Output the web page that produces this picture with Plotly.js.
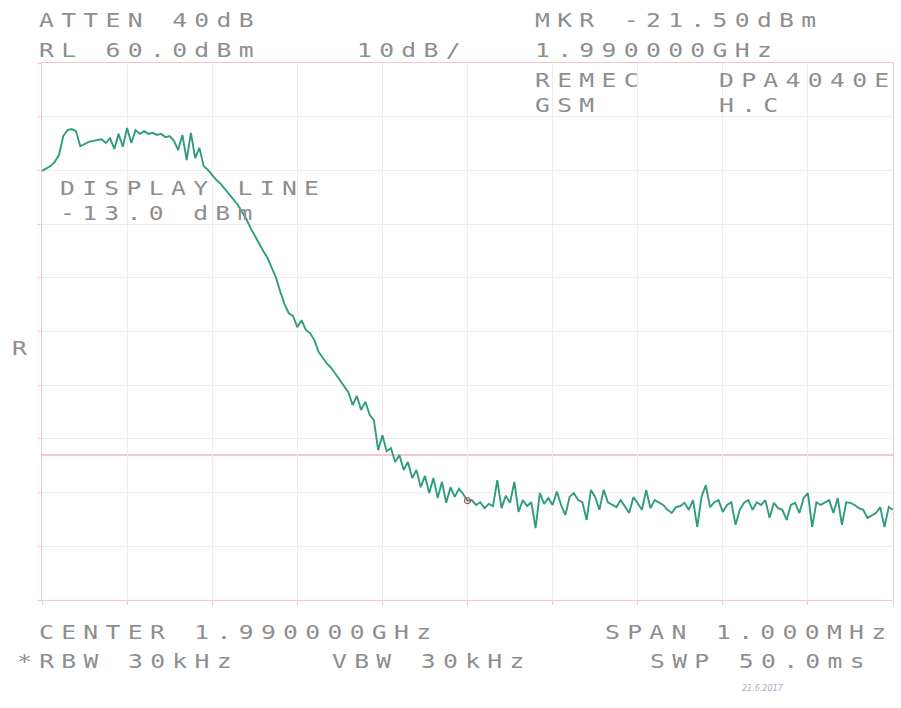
<!DOCTYPE html>
<html>
<head>
<meta charset="utf-8">
<script src="https://cdn.plot.ly/plotly-3.0.1.min.js"></script>
<style>
  html, body { margin: 0; padding: 0; background: #ffffff; }
  #chart { width: 901px; height: 708px; }
</style>
</head>
<body>
<div id="chart"></div>
<script>
// ---- Sweep settings (instrument) ----
const centerMHz = 1990.0;
const spanMHz = 1.0;
const refLevel = 60;        // dBm, top of screen
const dbPerDiv = 10;
const displayLine = -13.0;  // dBm
const markerLevel = -21.5;  // dBm at centre

// ---- Trace levels (dBm), 201 sweep points across the 1 MHz span ----
const levels = [
  39.9, 40.4, 40.8, 41.6, 42.9, 46.4, 47.5, 47.7, 47.3, 44.5,
  44.9, 45.3, 45.5, 45.7, 45.8, 45.1, 46.0, 44.0, 46.8, 44.4,
  47.9, 45.1, 47.5, 46.8, 47.3, 46.8, 47.0, 46.6, 46.8, 46.2,
  46.4, 45.5, 43.8, 46.6, 41.9, 47.0, 42.3, 44.2, 40.8, 40.1,
  39.1, 38.2, 37.5, 36.5, 35.6, 34.7, 33.6, 32.3, 31.0, 29.3,
  27.8, 26.5, 25.0, 23.7, 21.8, 20.0, 17.4, 15.1, 13.4, 12.9,
  10.8, 12.1, 10.3, 9.7, 8.4, 6.2, 5.1, 4.0, 3.2, 2.1,
  1.0, 0.0, -1.3, -3.7, -2.0, -4.6, -3.1, -5.5, -6.5, -12.1,
  -9.3, -12.3, -11.7, -14.3, -13.0, -15.8, -14.3, -17.3, -15.8, -19.0,
  -16.9, -20.1, -17.3, -21.0, -18.0, -21.9, -19.0, -20.8, -19.3, -20.3,
  -21.5, -21.4, -22.3, -21.8, -22.9, -22.1, -22.5, -17.7, -22.9, -20.6,
  -21.9, -18.0, -23.6, -21.4, -22.5, -21.8, -26.6, -20.1, -22.1, -21.0,
  -22.3, -19.8, -22.3, -24.2, -20.8, -20.1, -21.4, -21.8, -25.1, -19.5,
  -20.8, -23.2, -19.5, -21.8, -22.3, -22.7, -21.4, -22.5, -23.8, -20.8,
  -21.9, -23.2, -19.5, -22.9, -21.4, -21.9, -22.3, -23.2, -23.8, -22.7,
  -22.5, -21.9, -23.2, -21.4, -26.4, -20.8, -18.6, -22.7, -21.8, -21.4,
  -23.6, -22.3, -21.8, -26.0, -23.2, -21.9, -21.4, -23.2, -21.8, -22.3,
  -21.4, -24.7, -21.9, -22.9, -23.2, -25.1, -22.3, -21.9, -23.8, -21.0,
  -20.1, -26.4, -21.8, -22.3, -21.9, -21.4, -23.8, -21.0, -26.0, -21.8,
  -21.9, -22.3, -22.9, -23.2, -24.7, -24.2, -23.8, -22.7, -26.4, -22.7,
  -23.2
];

// ---- Screen annotation texts ----
const headerLeft = ["ATTEN 40dB", "RL 60.0dBm"];
const scaleText = "10dB/";
const markerTexts = ["MKR -21.50dBm", "1.990000GHz"];
const labelTexts = ["REMEC", "DPA4040E", "GSM", "H.C"];
const displayTexts = ["DISPLAY LINE", "-13.0 dBm"];
const footerTexts = ["CENTER 1.990000GHz", "SPAN 1.000MHz", "*RBW 30kHz", "VBW 30kHz", "SWP 50.0ms"];
const sideText = "R";
const signatureText = "21.6.2017";

// ---- Layout geometry (pixels) ----
const W = 901, H = 708;
const plotL = 42, plotR = 893, plotT = 63, plotB = 600;
const px = x => (x - plotL) / (plotR - plotL);
const py = y => (plotB - y) / (plotB - plotT);

const textColor = '#8e8e8e';
const textFont = { family: 'DejaVu Sans Mono, monospace', size: 19, color: textColor };

function label(text, x, y, font) {
  return {
    text: text, xref: 'paper', yref: 'paper',
    x: px(x), y: py(y), xanchor: 'left', yanchor: 'middle', align: 'left',
    showarrow: false, font: font || textFont
  };
}

const annotations = [
  label(headerLeft[0], 37, 20),
  label(headerLeft[1], 37, 50),
  label(scaleText, 355, 50),
  label(markerTexts[0], 533, 20),
  label(markerTexts[1], 533, 50),
  label(labelTexts[0], 533, 80),
  label(labelTexts[1], 717, 80),
  label(labelTexts[2], 533, 105),
  label(labelTexts[3], 717, 105),
  label(displayTexts[0], 58, 188),
  label(displayTexts[1], 58, 213),
  label(sideText, 10, 348),
  label(footerTexts[0], 37, 632),
  label(footerTexts[1], 603, 632),
  label(footerTexts[2], 15, 661),
  label(footerTexts[3], 330, 661),
  label(footerTexts[4], 648, 661),
  label(signatureText, 740, 688, { family: 'DejaVu Sans, sans-serif', size: 8, color: '#9fb0c8', style: 'italic' })
];

const gridColor = '#f1ebec';
const edgeColor = '#f2c8cf';

const traces = [
  {
    type: 'scatter', mode: 'lines',
    y: levels, x0: centerMHz - spanMHz / 2, dx: spanMHz / (levels.length - 1),
    line: { color: '#2f9c80', width: 1.9 },
    hoverinfo: 'skip', showlegend: false
  },
  {
    type: 'scatter', mode: 'markers',
    x: [centerMHz], y: [markerLevel],
    marker: { symbol: 'circle-open', size: 6, color: '#c0505a', line: { width: 1.2 } },
    hoverinfo: 'skip', showlegend: false
  }
];

const layout = {
  width: W, height: H,
  margin: { l: plotL, r: W - plotR, t: plotT, b: H - plotB, pad: 0 },
  paper_bgcolor: '#ffffff', plot_bgcolor: '#ffffff',
  showlegend: false,
  xaxis: {
    range: [centerMHz - spanMHz / 2, centerMHz + spanMHz / 2],
    dtick: spanMHz / 10, tick0: centerMHz,
    showticklabels: false, ticks: 'outside', ticklen: 4, tickcolor: edgeColor,
    showgrid: true, gridcolor: gridColor, gridwidth: 1,
    zeroline: false, showline: true, linecolor: edgeColor, linewidth: 1, mirror: true,
    fixedrange: true
  },
  yaxis: {
    range: [refLevel - 10 * dbPerDiv, refLevel],
    dtick: dbPerDiv, tick0: refLevel,
    showticklabels: false, ticks: 'outside', ticklen: 4, tickcolor: edgeColor,
    showgrid: true, gridcolor: gridColor, gridwidth: 1,
    zeroline: false, showline: true, linecolor: edgeColor, linewidth: 1, mirror: true,
    fixedrange: true
  },
  shapes: [
    {
      type: 'line', xref: 'paper', x0: 0, x1: 1, yref: 'y', y0: displayLine, y1: displayLine,
      line: { color: '#f08d9c', width: 1 }, layer: 'below'
    }
  ],
  annotations: annotations
};

Plotly.newPlot('chart', traces, layout, { staticPlot: true, displayModeBar: false }).then(function (gd) {
  // plotter-style wide glyphs at ~22 px character pitch
  const stretch = 1.3;
  gd.querySelectorAll('.annotation-text').forEach(function (t) {
    if (t.textContent === signatureText) return;
    const x0 = parseFloat(t.getAttribute('x')) || 0;
    t.style.letterSpacing = (22.2 / stretch - 19 * 0.602).toFixed(2) + 'px';
    t.setAttribute('transform', 'translate(' + x0 + ',0) scale(' + stretch + ',1) translate(' + (-x0) + ',0)');
  });
});
</script>
</body>
</html>
